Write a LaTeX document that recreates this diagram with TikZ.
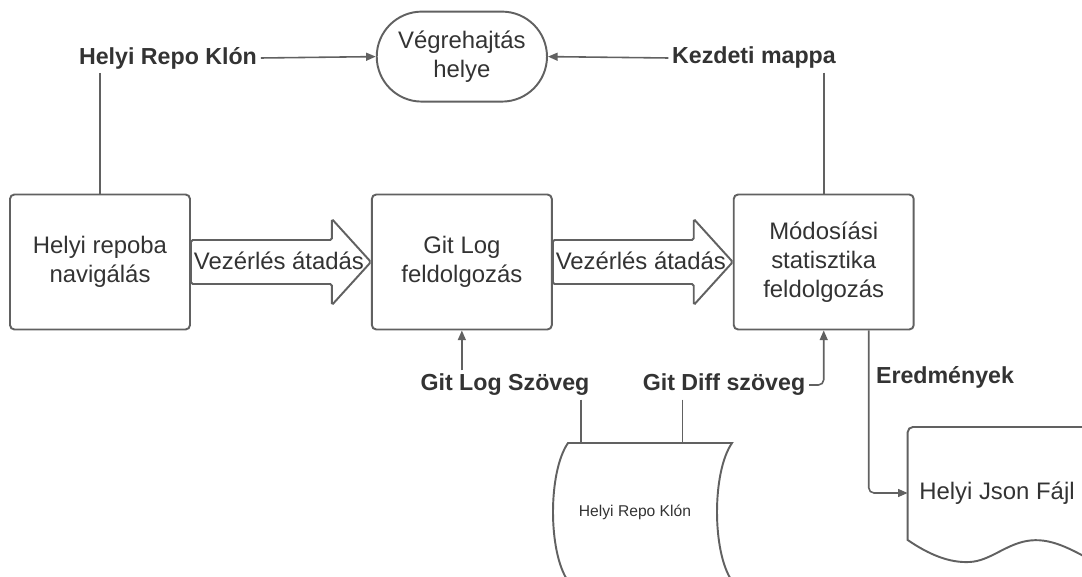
\documentclass[tikz,border=0pt]{standalone}
\usepackage{fontspec}
\setmainfont{Liberation Sans}
\usepackage{xcolor}
\usetikzlibrary{arrows.meta,positioning,calc,shapes.misc}
\definecolor{inkgray}{HTML}{333333}
\definecolor{linegray}{HTML}{616161}

\begin{document}
\begin{tikzpicture}[
  x=0.02cm, y=-0.02cm,
  node distance=3.6cm,
  every node/.style={text=inkgray, font=\fontsize{13.6}{16.5}\selectfont},
  proc/.style={draw=linegray, line width=1.1pt, rounded corners=2.5pt, minimum width=3.6cm, minimum height=2.7cm, align=center},
  term/.style={draw=linegray, line width=1.1pt, rounded rectangle, minimum width=3.64cm, minimum height=1.8cm, align=center},
  tag/.style={font=\bfseries\fontsize{13.2}{16}\selectfont, inner sep=2pt},
  store/.style={draw=linegray, line width=1.1pt},
  arrow/.style={-{Triangle[length=5.5pt,width=4.5pt]}, draw=linegray, line width=0.9pt},
  link/.style={draw=linegray, line width=0.9pt},
  blk/.style={draw=linegray, line width=1.1pt, fill=white, rounded corners=1pt}
]
  \useasboundingbox (0,0) rectangle (1082,577);

  % main steps
  \node[proc] (nav) at (100,262) {Helyi repoba\\navigálás};
  \node[proc] (logproc) [right=of nav] {Git Log\\feldolgozás};
  \node[proc] (stat) [right=of logproc] {Módosíási\\statisztika\\feldolgozás};
  \node[term] (exec) [above=1.82cm of logproc] {Végrehajtás\\helye};

  % control handover
  \draw[blk] ($(nav.east)+(0,-22)$) -- ($(logproc.west)+(-39,-22)$) -- ($(logproc.west)+(-39,-43)$) -- (logproc.west)
    -- ($(logproc.west)+(-39,43)$) -- ($(logproc.west)+(-39,22)$) -- ($(nav.east)+(0,22)$) -- cycle;
  \draw[blk] ($(logproc.east)+(0,-22)$) -- ($(stat.west)+(-39,-22)$) -- ($(stat.west)+(-39,-43)$) -- (stat.west)
    -- ($(stat.west)+(-39,43)$) -- ($(stat.west)+(-39,22)$) -- ($(logproc.east)+(0,22)$) -- cycle;
  \node (ctl1) at ($(nav.east)!0.5!(logproc.west)+(-2,-1)$) {Vezérlés átadás};
  \node (ctl2) at ($(logproc.east)!0.5!(stat.west)+(-2,-1)$) {Vezérlés átadás};

  % labels
  \node[tag] (clonetag) at (168,58) {Helyi Repo Klón};
  \node[tag] (starttag) at (754,58) {Kezdeti mappa};
  \node[tag] (logtag) at (505,385) {Git Log Szöveg};
  \node[tag] (difftag) at (724,385) {Git Diff szöveg};
  \node[tag] (restag) at (945,377) {Eredmények};

  % local clone store
  \node[font=\fontsize{8.9}{11}\selectfont] (repo) at (635,512) {Helyi Repo Klón};
  \coordinate (repotop) at ($(repo)+(0,-69)$);
  \draw[store] ($(repo)+(-67,-69)$) -- ($(repo)+(97,-69)$)
    .. controls ($(repo)+(77,-40)$) and ($(repo)+(77,40)$) .. ($(repo)+(97,69)$)
    -- ($(repo)+(-67,69)$)
    .. controls ($(repo)+(-87,40)$) and ($(repo)+(-87,-40)$) .. cycle;

  % json output
  \node[minimum width=3.56cm] (json) at (997,493) {Helyi Json Fájl};
  \draw[store] ($(json.west)+(0,47)$) [rounded corners=3pt] -- ($(json.west)+(0,-66)$) -- ($(json.west)+(192,-66)$) [sharp corners]
    -- ($(json.west)+(192,72)$)
    .. controls ($(json.west)+(162,55)$) and ($(json.west)+(142,44)$) .. ($(json.west)+(119,48)$)
    .. controls ($(json.west)+(97,52)$) and ($(json.west)+(82,68)$) .. ($(json.west)+(62,69)$)
    .. controls ($(json.west)+(42,70)$) and ($(json.west)+(22,62)$) .. cycle;

  % connectors
  \draw[arrow] (clonetag.east) -- (exec.west);
  \draw[arrow] (starttag.west) -- (exec.east);
  \draw[link] (clonetag.south -| nav.north) -- (nav.north);
  \draw[link] (starttag.south -| stat.north) -- (stat.north);
  \draw[arrow] (logtag.north -| logproc.south) -- (logproc.south);
  \draw[arrow, rounded corners=3pt] (difftag.east) -- (difftag.east -| stat.south) -- (stat.south);
  \coordinate (logfoot) at ([xshift=1.52cm]logtag.south);
  \coordinate (difffoot) at ([xshift=-0.83cm]difftag.south);
  \draw[link] (logfoot) -- (logfoot |- repotop);
  \draw[link] (difffoot) -- (difffoot |- repotop);
  \coordinate (resfoot) at ([xshift=0.9cm]stat.south);
  \draw[arrow, rounded corners=3pt] (resfoot) -- (resfoot |- json.west) -- (json.west);
\end{tikzpicture}
\end{document}
